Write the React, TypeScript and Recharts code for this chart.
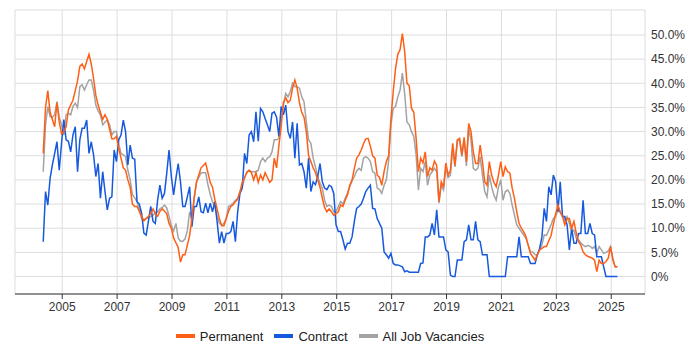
import { LineChart, Line, XAxis, YAxis, CartesianGrid, Legend } from "recharts";

// monthly series, first point is April 2004
const START_YEAR = 2004;
const START_MONTH = 4;

const permanent = [
  25.5, 35, 38.5, 34, 32.5, 31, 36, 32, 29.5,
  30, 31, 34.5, 35.5, 36.5, 38.5, 40.5, 43.5, 44, 43, 44.5, 46,
  44, 41, 37.5, 35.5, 34, 32.5, 33.5, 32.5, 30.5, 28.5, 28.5, 29,
  26.5, 24.5, 22.5, 22, 20, 18.5, 15, 14.5, 14.5, 13.5, 12.5, 11.5,
  12, 12.5, 13, 14, 13, 12.5, 13.5, 14, 13.5, 13, 11, 10,
  8, 7, 6, 3, 4.5, 4.5, 6.5, 8.5, 12, 16.5, 19.5, 21,
  22.5, 23, 23.5, 21.5, 19.5, 18.5, 16, 14, 12, 10.5, 10.5, 12,
  13.5, 14.5, 14.8, 15.5, 16, 17.5, 19.5, 20.5, 21.5, 22, 21.5, 20,
  21.5, 19.5, 21, 20, 21.5, 20.5, 19.5, 20, 24.5, 22.5, 27, 31,
  36, 37, 36, 36.5, 39, 40.7, 39, 36, 34, 33, 30, 25,
  23.8, 22.5, 21.5, 20, 18.5, 16.2, 14.3, 13.4, 14, 13.4, 12.7, 13,
  13.4, 14.8, 14.5, 15.8, 16.9, 18.9, 20, 22.4, 24.5, 25.2, 26.2, 27.5,
  28.5, 28.6, 27, 25, 24.5, 21, 20.5, 18.9, 21.7, 23.8, 25, 32.7,
  38.3, 43, 46, 47, 50.3, 46.6, 40, 39.5, 34.8, 34, 28.6, 21.7,
  24.5, 23.5, 25.8, 20.7, 22.5, 22, 23.9, 23, 15.5, 19.6, 18.5, 23.5,
  21, 22, 27.6, 23, 28.3, 28.6, 25.2, 28.8, 23.8, 31.7, 30, 25.8,
  23.4, 23.4, 27.2, 23.8, 19.6, 18.9, 23.8, 21, 19.5, 18.6, 21, 23.8,
  20.7, 22.7, 21.7, 21.4, 18.3, 16.2, 13.4, 11, 10, 9.3, 8.3, 6.5,
  4.8, 4.1, 3.4, 4.5, 5.5, 5.8, 6.2, 6.2, 7.4, 8.5, 10.8, 13,
  14.8, 13.4, 12.4, 10.7, 12, 12, 10, 11.4, 9, 7.2, 6.5, 5.1,
  4.5, 4.2, 4, 3.8, 3.4, 1, 3.4, 2.7, 2.7, 3.1, 3.8, 6.2,
  3.4, 2, 2,
];

const contract = [
  7.2, 17.6, 14.8, 20.3, 23.1, 25.5, 27.9, 22, 27.6,
  32.5, 28.3, 28, 25.8, 29.3, 31, 21.7, 28.3, 30.7, 30.7, 32.4, 25.5,
  27.9, 25.2, 20.7, 23.4, 16.2, 21.7, 17.6, 13.8, 16.2, 16.5, 26.2, 23.8,
  28.3, 29.3, 32.4, 30, 23.1, 27.2, 24.5, 24.3, 15.5, 15, 13.1, 9,
  8.6, 11.5, 14.5, 11.4, 11, 15.8, 18.9, 16.2, 17.2, 21.4, 26.2, 20.7,
  16.9, 20.3, 23.4, 19.6, 14.5, 14.5, 16.5, 18.6, 10.3, 14.5, 14.5, 16.5,
  13.4, 13.2, 15.2, 13.2, 15.2, 13.4, 15.5, 11.4, 6.9, 9.3, 6.9, 8.9,
  8.9, 9.3, 11.4, 7.2, 13.4, 17.2, 18.3, 25.5, 23.4, 29.3, 30, 27.9,
  34.1, 28, 34.8, 34.1, 32.7, 31.4, 30, 33.8, 34.1, 33, 29, 35.2,
  33.5, 35.5, 30, 28.6, 32, 24.5, 31.7, 23.1, 23.4, 21.7, 18.3, 24.5,
  17.6, 19.6, 19, 20.7, 23.4, 19.6, 18.3, 18, 18.9, 18.6, 17.2, 10.7,
  9.3, 9.3, 7.6, 5.7, 6.9, 6.9, 8.2, 11.4, 14.1, 14.5, 15, 16.2,
  17.6, 18.3, 18.9, 14.1, 14, 12, 11, 10, 5.1, 4.5, 3.8, 4.8,
  2.7, 2.4, 2.4, 2.2, 2, 1, 1.2, 0.9, 0.9, 0.9, 0.9, 0.9,
  2.7, 2.8, 8.2, 8.2, 8.6, 11, 8.6, 13.8, 8.2, 8.2, 8.2, 5.5,
  5.1, 0.3, 0, 0, 3.4, 3.4, 3.4, 7.2, 7.6, 10.7, 7.6, 7.6,
  11.4, 7.6, 7.2, 4.5, 4.5, 4.5, 0, 0, 0, 0, 0, 0,
  0, 0, 4.1, 4.1, 4.1, 4.1, 4.1, 8.2, 4.1, 4.1, 4.1, 4.1,
  2.7, 2.7, 2.7, 4.5, 5.8, 8.2, 14.1, 11.4, 18.6, 16.9, 21, 19.6,
  13.4, 19.6, 12.4, 12.4, 10.7, 5.5, 10, 6.9, 6.9, 8.9, 8.9, 15.8,
  8.9, 8.9, 11, 8.9, 8.6, 4.1, 4.1, 4.1, 2, 0, 0, 0,
  0, 0, 0,
];

const allJobs = [
  21.7, 31.4, 35.2, 33.1, 33, 33.5, 36.2, 33, 31.4,
  29.3, 33.5, 33.8, 33.5, 35.2, 35.9, 35, 39.3, 39.7, 38.6, 39.7, 40.7,
  40.7, 38.5, 35.5, 34.3, 33.4, 31.4, 32, 32.4, 31.4, 29.3, 30, 30,
  27.5, 25.5, 25.2, 24.8, 22, 20, 17, 16.3, 15.5, 13.8, 12, 11.8,
  12, 12.2, 12.4, 12.7, 13.2, 13.4, 14, 14.3, 14.8, 14.2, 12.5, 10.5,
  9.4, 11, 8, 7.3, 7.3, 7.8, 9.5, 13.4, 12, 16, 19.6, 20.5,
  21.5, 21.5, 21.5, 19, 17, 15.5, 14.5, 12.5, 11, 10.7, 11, 12,
  14.5, 14.8, 15.2, 15.8, 16.2, 17.6, 18.6, 20.3, 21.7, 22, 21.7, 21.7,
  21.7, 22, 23.8, 24.5, 23.8, 24.5, 24.8, 25.8, 28.3, 28.3, 28.6, 32.7,
  35.5, 37.9, 37.2, 38.3, 40, 39.3, 39.3, 39, 37.2, 36.2, 32, 28.3,
  27.6, 24.5, 22.7, 20.7, 19.3, 18.3, 15.8, 14.5, 14.8, 14.5, 13.4, 13.4,
  14.5, 15.5, 15, 16.2, 17.3, 18.6, 19.8, 20.7, 21.8, 22.4, 22, 24.5,
  24.8, 24.5, 23.8, 21.7, 21.4, 18.3, 18, 17.2, 18.9, 20, 24, 31.4,
  34.8, 35.2, 37.2, 38.6, 42.1, 37.9, 32, 31.4, 30, 29, 25.2, 17.9,
  22.4, 21.7, 23.8, 18.9, 21, 21.7, 22.4, 21.7, 15.2, 18.9, 17.9, 22.7,
  20.5, 21, 26.5, 22.7, 28, 28.3, 24.8, 28.3, 22.9, 30.7, 28.3, 22.4,
  22, 22.4, 24.8, 21, 17.6, 16.5, 21, 18.6, 16.9, 15.8, 18.5, 20,
  15.8, 17.6, 17.9, 17.2, 14.8, 12.7, 10.7, 10, 9.3, 8.6, 7.9, 6.5,
  5.1, 5.1, 4.5, 4.5, 5.5, 6.5, 8.6, 8.5, 9.6, 10.7, 12, 12.4,
  13.8, 13.2, 12.7, 11.5, 12.4, 11, 9.3, 9.6, 7.9, 7.6, 6.9, 6.5,
  6.2, 6.4, 6.3, 5.8, 6.2, 4.8, 6.2, 5.5, 4.8, 5, 5.3, 6.2,
  3.8, 2, 2,
];

const yearTicks = [2005, 2007, 2009, 2011, 2013, 2015, 2017, 2019, 2021, 2023, 2025];
const percentTicks = [0, 5, 10, 15, 20, 25, 30, 35, 40, 45, 50];

const COLORS = { permanent: "#FF5F15", contract: "#1659DE", all: "#A3A3A3" };
const FONT = "'Liberation Sans', Arial, sans-serif";

const data = permanent.map((p, i) => {
  const n = START_MONTH - 1 + i;
  const year = START_YEAR + Math.floor(n / 12);
  const month = (n % 12) + 1;
  return {
    t: year + (month - 0.3) / 12,
    permanent: p,
    contract: contract[i],
    all: allJobs[i],
  };
});

const legendItems = [
  { label: "Permanent", color: COLORS.permanent },
  { label: "Contract", color: COLORS.contract },
  { label: "All Job Vacancies", color: COLORS.all },
];

function LegendContent() {
  return (
    <div
      style={{
        display: "flex",
        justifyContent: "center",
        alignItems: "center",
        fontFamily: FONT,
        fontSize: 13,
        color: "#222",
        height: 24,
        gap: 11,
      }}
    >
      {legendItems.map((item) => (
        <div key={item.label} style={{ display: "flex", alignItems: "center" }}>
          <span style={{ display: "inline-block", width: 19, height: 4, background: item.color, marginRight: 5 }} />
          <span>{item.label}</span>
        </div>
      ))}
    </div>
  );
}

export default function App() {
  return (
    <div style={{ position: "absolute", left: 0, top: 0, width: 700, height: 350, background: "#fff" }}>
      <LineChart
        width={700}
        height={350}
        data={data}
        margin={{ top: 10, right: 0, bottom: 0, left: 15 }}
        style={{ fontFamily: FONT }}
      >
        <CartesianGrid stroke="#dddddd" />
        <XAxis
          dataKey="t"
          type="number"
          domain={[2003.28, 2026.23]}
          ticks={yearTicks}
          allowDataOverflow
          height={30}
          tickSize={5}
          tickMargin={3}
          stroke="#333"
          tick={{ fill: "#333", fontSize: 12 }}
          tickFormatter={(v) => String(v)}
        />
        <YAxis
          orientation="right"
          domain={[-3.62, 55.18]}
          ticks={percentTicks}
          allowDataOverflow
          width={55}
          axisLine={false}
          tickLine={false}
          tickSize={0}
          tickMargin={6}
          tick={{ fill: "#333", fontSize: 12, textAnchor: "start" }}
          tickFormatter={(v) => (v === 0 ? "0%" : `${v.toFixed(1)}%`)}
        />
        <Line type="linear" dataKey="all" stroke={COLORS.all} strokeWidth={1.5} dot={false} isAnimationActive={false} />
        <Line type="linear" dataKey="contract" stroke={COLORS.contract} strokeWidth={1.5} dot={false} isAnimationActive={false} />
        <Line type="linear" dataKey="permanent" stroke={COLORS.permanent} strokeWidth={1.5} dot={false} isAnimationActive={false} />
        <Legend
          verticalAlign="bottom"
          height={26}
          content={<LegendContent />}
          wrapperStyle={{ left: 15, width: 630 }}
        />
      </LineChart>
    </div>
  );
}
